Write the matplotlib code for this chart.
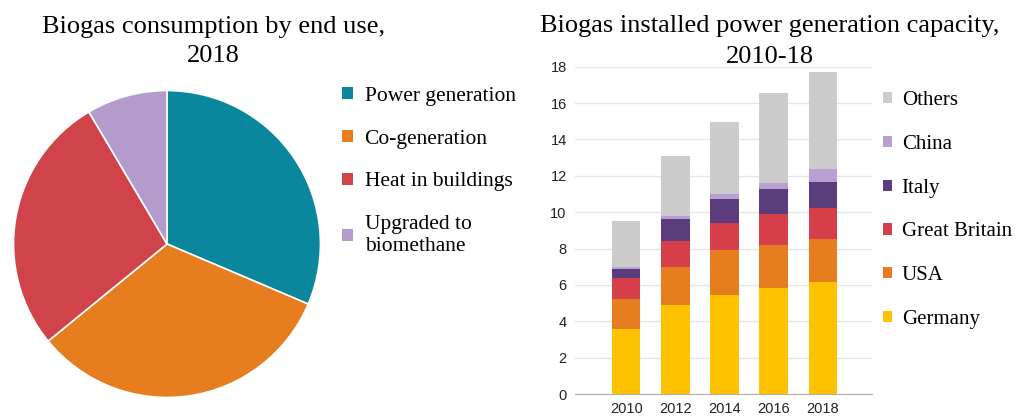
import matplotlib.pyplot as plt
import numpy as np
from matplotlib.patches import Patch

# pie: biogas consumption by end use, 2018 (shares, %)
end_uses = ["Power generation", "Co-generation", "Heat in buildings", "Upgraded to\nbiomethane"]
end_use_share = [31.4, 32.7, 27.4, 8.5]
end_use_colors = ["#0b879d", "#e67e1f", "#d0434b", "#b39ccb"]

# stacked bars: installed capacity (GW), 2010-18
years = ["2010", "2012", "2014", "2016", "2018"]
germany = [3.55, 4.9, 5.45, 5.85, 6.15]
usa = [1.65, 2.1, 2.45, 2.35, 2.4]
great_britain = [1.2, 1.4, 1.5, 1.7, 1.7]
italy = [0.5, 1.25, 1.3, 1.35, 1.4]
china = [0.1, 0.15, 0.3, 0.35, 0.7]
others = [2.5, 3.3, 3.95, 4.95, 5.35]
country_names = ["Germany", "USA", "Great Britain", "Italy", "China", "Others"]
country_colors = ["#fdc300", "#e67e1f", "#d63f49", "#5b3d7e", "#b9a0d2", "#cccccc"]

serif = ["Liberation Serif", "DejaVu Serif"]
sans = ["Liberation Sans", "DejaVu Sans"]
H = 417.0

fig = plt.figure(figsize=(10.16, 4.17), dpi=100)

# ---- pie ----
ax_pie = fig.add_axes([12 / 1016, 1 - 400 / H, 310 / 1016, 312 / H])
ax_pie.pie(
    end_use_share,
    colors=end_use_colors,
    startangle=90,
    counterclock=False,
    wedgeprops=dict(edgecolor="white", linewidth=1.2),
)
ax_pie.set_xlim(-1.01, 1.01)
ax_pie.set_ylim(-1.01, 1.01)
ax_pie.set_aspect("equal")
fig.text(213 / 1016, 1 - 33 / H, "Biogas consumption by end use,",
         ha="center", va="baseline", family=serif, fontsize=19)
fig.text(213 / 1016, 1 - 62 / H, "2018",
         ha="center", va="baseline", family=serif, fontsize=19)

pie_handles = [Patch(facecolor=c, edgecolor="none") for c in end_use_colors]
fig.legend(pie_handles, end_uses, loc="upper left",
           bbox_to_anchor=(342 / 1016, 1 - 87 / H), frameon=False,
           prop=dict(family=serif, size=15.5), handlelength=0.5, handleheight=0.5,
           handletextpad=0.55, labelspacing=1.1, borderaxespad=0, borderpad=0)

# ---- stacked bars ----
ax = fig.add_axes([575 / 1016, 1 - 394 / H, 297 / 1016, (394 - 66.7) / H])
x = np.arange(len(years))
bottom = np.zeros(len(years))
series = [germany, usa, great_britain, italy, china, others]
for name, vals, col in zip(country_names, series, country_colors):
    ax.bar(x, vals, width=0.58, bottom=bottom, color=col, label=name, zorder=2)
    bottom += np.array(vals)

ax.set_ylim(0, 18)
ax.set_xlim(-1.04, 5.0)
ax.set_yticks(np.arange(0, 19, 2))
ax.set_xticks(x)
ax.set_xticklabels(years)
ax.grid(axis="y", color="#e6e6e6", linewidth=1, zorder=0)
for side in ["top", "right", "left"]:
    ax.spines[side].set_visible(False)
ax.spines["bottom"].set_color("#b0b0b0")
ax.tick_params(axis="both", length=0, labelsize=10.5, colors="#222222", pad=6)
for lbl in ax.get_xticklabels() + ax.get_yticklabels():
    lbl.set_family(sans)

fig.text(770 / 1016, 1 - 32 / H, "Biogas installed power generation capacity,",
         ha="center", va="baseline", family=serif, fontsize=19)
fig.text(770 / 1016, 1 - 63 / H, "2010-18",
         ha="center", va="baseline", family=serif, fontsize=19)

handles, labels = ax.get_legend_handles_labels()
fig.legend(handles[::-1], labels[::-1], loc="upper left",
           bbox_to_anchor=(883 / 1016, 1 - 91 / H), frameon=False,
           prop=dict(family=serif, size=15), handlelength=0.45, handleheight=0.45,
           handletextpad=0.45, labelspacing=1.19, borderaxespad=0, borderpad=0)

fig.savefig("out.png", dpi=100)
